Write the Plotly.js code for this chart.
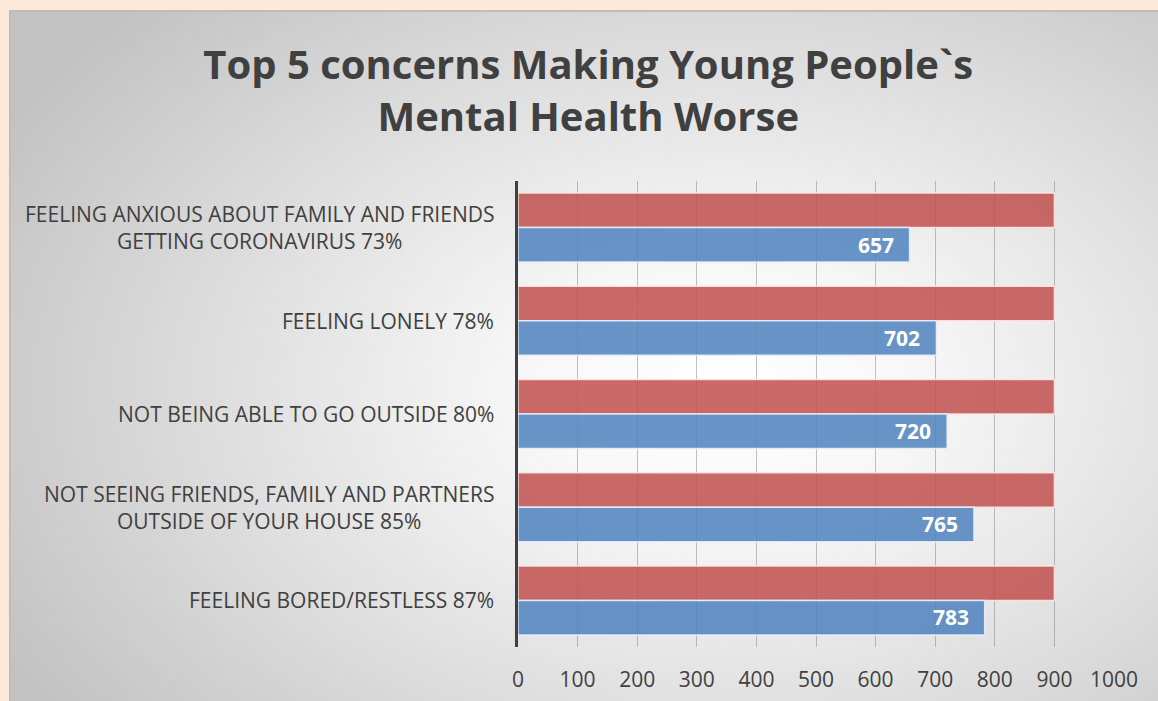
<!DOCTYPE html>
<html>
<head>
<meta charset="utf-8">
<script src="https://cdn.plot.ly/plotly-3.0.1.min.js"></script>
<style>
  html, body { margin: 0; padding: 0; width: 1158px; height: 701px; overflow: hidden; background: #FDE9DA; }
  #panel { position: absolute; left: 9px; top: 10px; width: 1149px; height: 691px;
    border-left: 2px solid #bdbdbd; border-top: 2px solid #bdbdbd; box-sizing: border-box;
    background: radial-gradient(ellipse 72% 80% at 62% 55%, #ffffff 0%, #f8f8f8 22%, #e0e0e0 58%, #c2c2c2 100%); }
  #chart { position: absolute; left: 0; top: 0; width: 1158px; height: 701px; }
</style>
</head>
<body>
<div id="panel"></div>
<div id="chart"></div>
<script>
const categories = [
  "FEELING ANXIOUS ABOUT FAMILY AND FRIENDS<br>GETTING CORONAVIRUS 73%",
  "FEELING LONELY 78%",
  "NOT BEING ABLE TO GO OUTSIDE 80%",
  "NOT SEEING FRIENDS, FAMILY AND PARTNERS<br>OUTSIDE OF YOUR HOUSE 85%",
  "FEELING BORED/RESTLESS 87%"
];
const totalValues = [900, 900, 900, 900, 900];
const concernValues = [657, 702, 720, 765, 783];
const xTicks = [0, 100, 200, 300, 400, 500, 600, 700, 800, 900, 1000];

const catIdx = categories.map((c, i) => i);

const traces = [
  { type: 'bar', orientation: 'h', y: catIdx, x: totalValues,
    marker: { color: 'rgba(192,80,77,0.85)', line: { color: 'rgba(255,230,230,0.9)', width: 1.5 } },
    hoverinfo: 'x' },
  { type: 'bar', orientation: 'h', y: catIdx, x: concernValues,
    marker: { color: 'rgba(79,129,189,0.85)', line: { color: 'rgba(230,240,255,0.9)', width: 1.5 } },
    hoverinfo: 'x' }
];

const annotations = [];
categories.forEach((c, i) => {
  annotations.push({ xref: 'paper', x: 0, xshift: -22, xanchor: 'right', yref: 'y', y: i,
    yanchor: 'middle', text: c, showarrow: false, align: 'center',
    font: { family: 'Open Sans, sans-serif', size: 21, color: '#404040' } });
  annotations.push({ xref: 'x', x: concernValues[i], xshift: -14, xanchor: 'right', yref: 'y', y: i,
    yshift: -17, yanchor: 'middle', text: String(concernValues[i]), showarrow: false,
    font: { family: 'Open Sans, sans-serif', size: 21, color: '#ffffff', weight: 'bold' } });
});

const layout = {
  width: 1158, height: 701,
  paper_bgcolor: 'rgba(0,0,0,0)', plot_bgcolor: 'rgba(0,0,0,0)',
  margin: { l: 518, r: 44, t: 181, b: 54 },
  title: { text: '<b>Top 5 concerns Making Young People`s<br>Mental Health Worse</b>',
    font: { family: 'Open Sans, sans-serif', size: 40, color: '#404040' },
    x: 0.508, xanchor: 'center', yref: 'container', y: 0.888, yanchor: 'middle' },
  barmode: 'group', bargap: 0.26, bargroupgap: 0.0,
  showlegend: false,
  xaxis: { range: [0, 1000], tickvals: xTicks, ticktext: xTicks.map(String),
    showgrid: true, gridcolor: 'rgba(120,120,120,0.45)', gridwidth: 1,
    zeroline: false, showline: false, ticks: '', ticklabelstandoff: 18,
    tickfont: { family: 'Open Sans, sans-serif', size: 21, color: '#404040' }, fixedrange: true },
  yaxis: { range: [4.5, -0.5], tickvals: catIdx, showticklabels: false, showgrid: false,
    zeroline: false, showline: true, linecolor: '#404040', linewidth: 3, fixedrange: true },
  annotations: annotations
};

Plotly.newPlot('chart', traces, layout, { displayModeBar: false, staticPlot: true });
</script>
</body>
</html>
